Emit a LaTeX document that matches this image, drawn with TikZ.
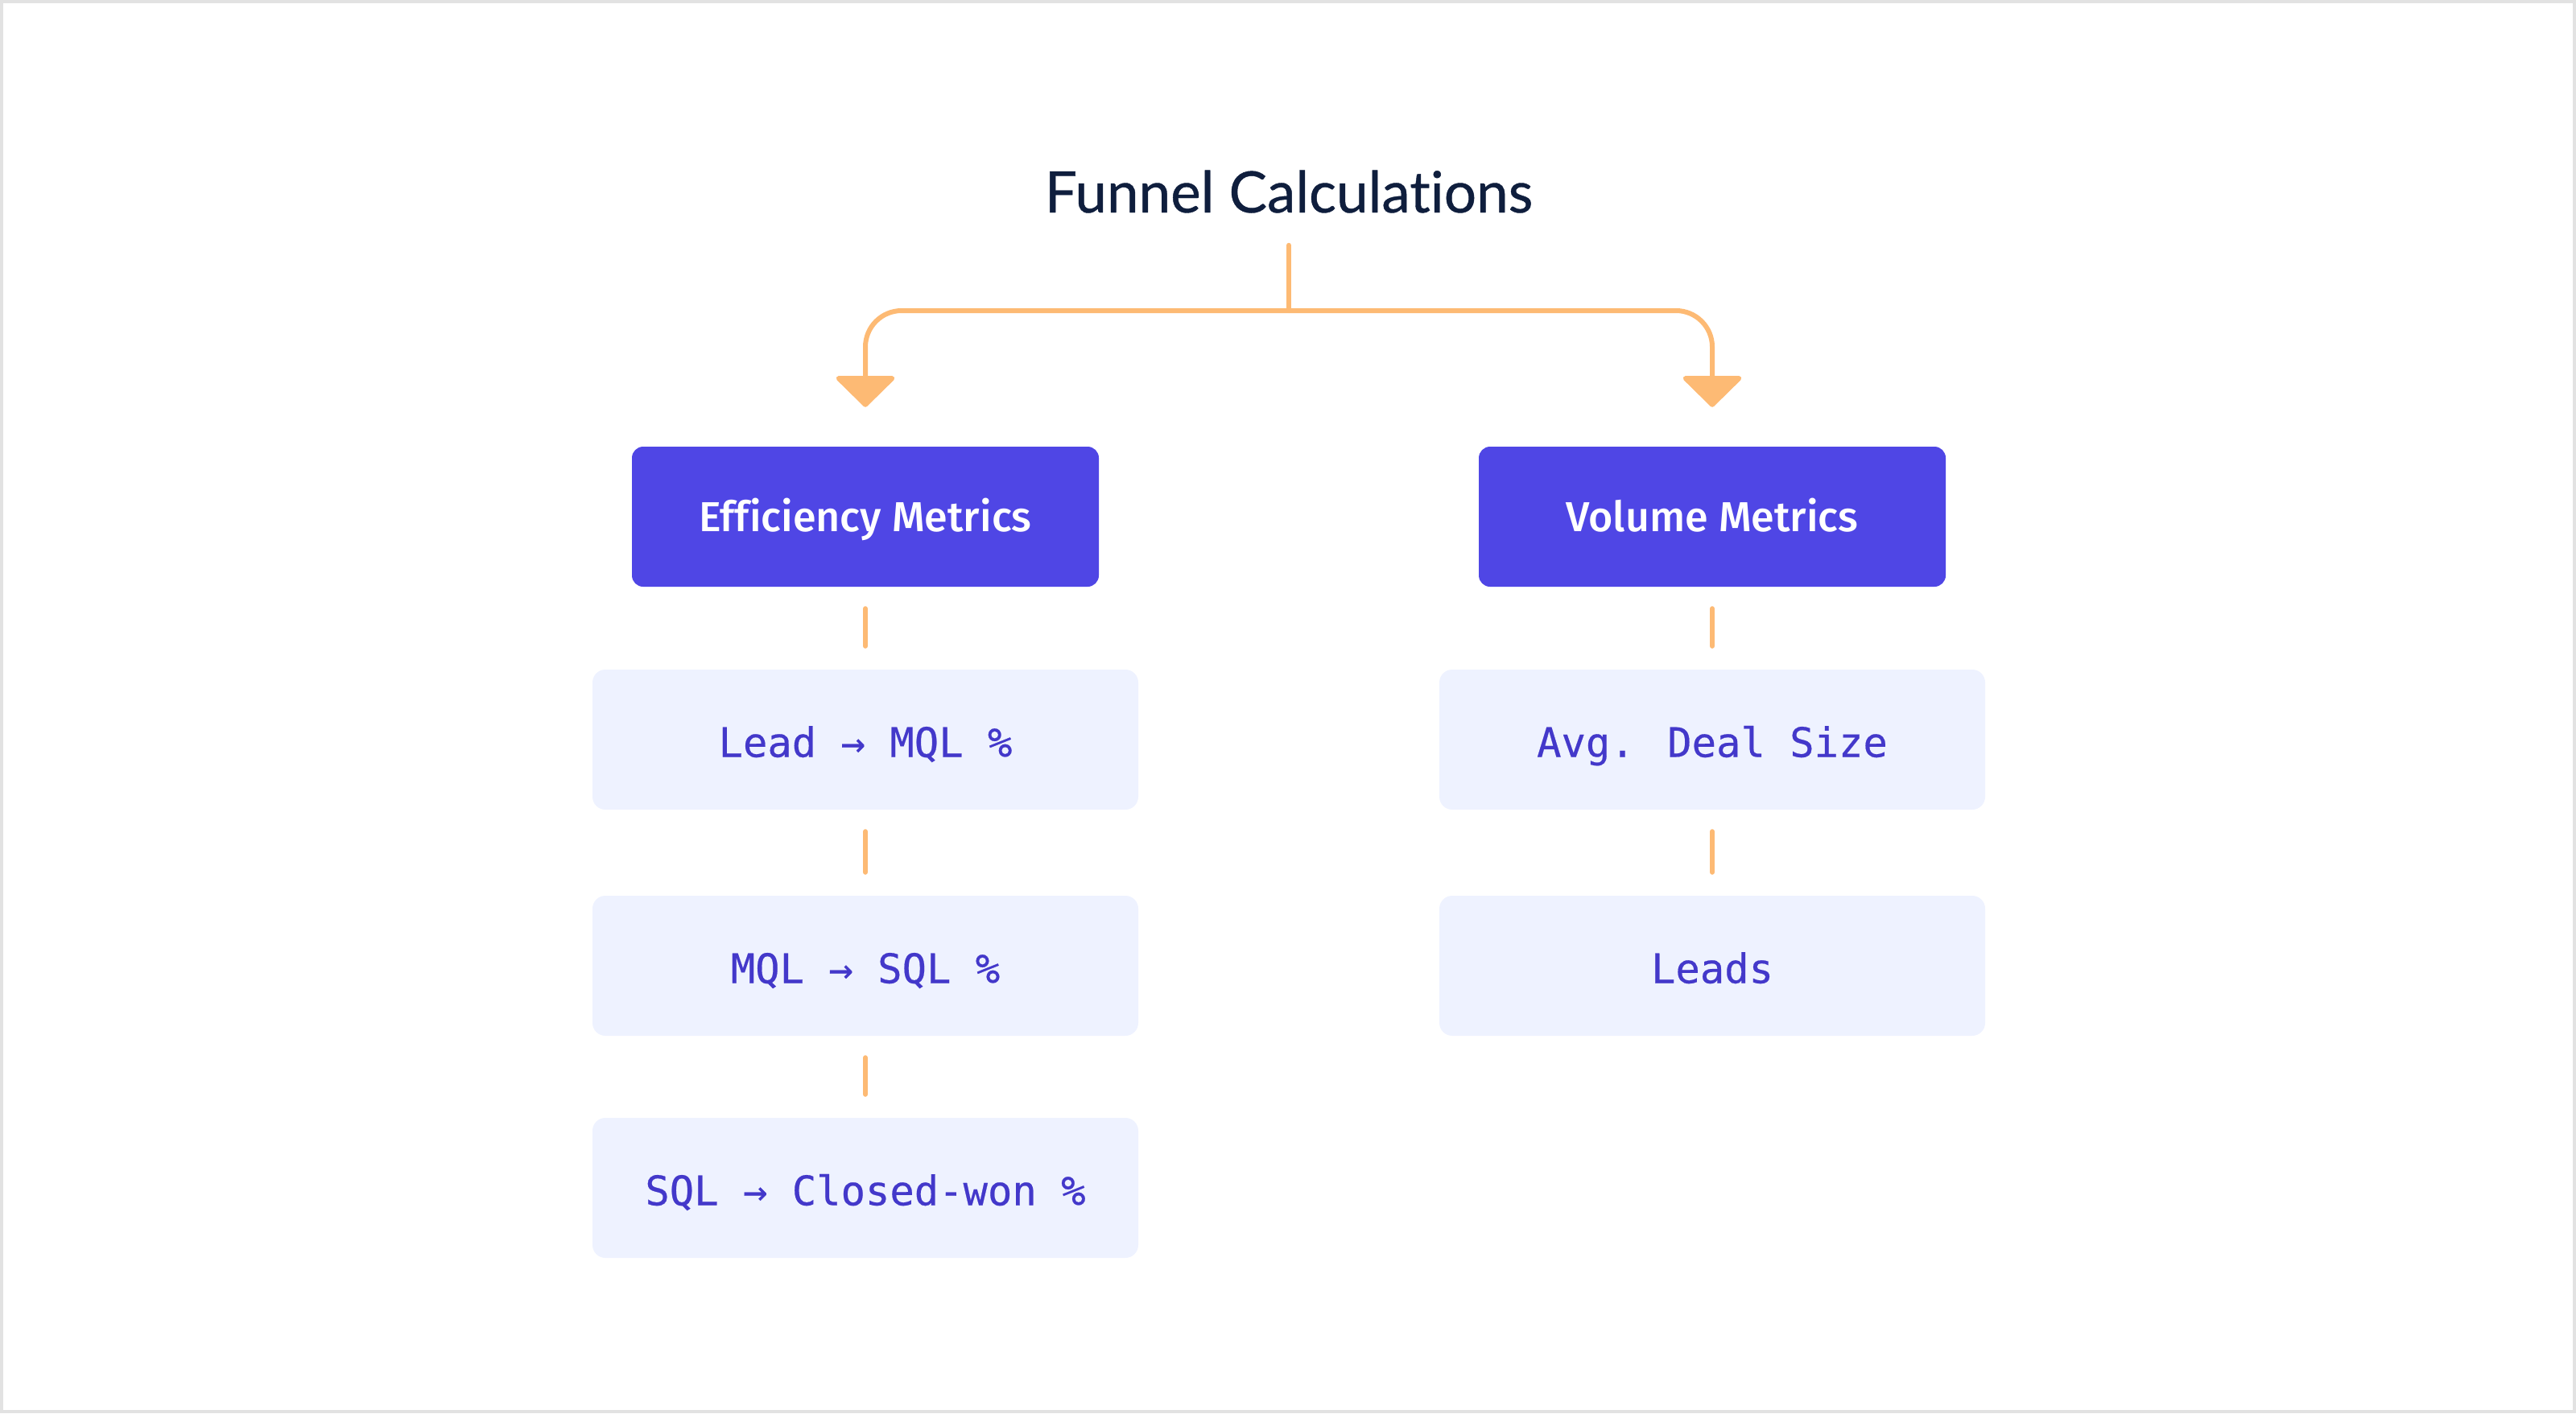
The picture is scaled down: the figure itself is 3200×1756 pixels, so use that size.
\documentclass[tikz,border=0pt]{standalone}
\usepackage{fontspec}
\usepackage{tikz}
\usetikzlibrary{arrows.meta}

\newfontfamily\titlefont{Lato}[Ligatures=NoCommon, FakeBold=0.6]
\newfontfamily\monofont{DejaVu Sans Mono}[FakeBold=0.4]
\IfFontExistsTF{Fira Sans Medium}
  {\newfontfamily\headfont{Fira Sans Medium}[Ligatures=NoCommon]}
  {\IfFontExistsTF{Fira Sans SemiBold}
    {\newfontfamily\headfont{Fira Sans SemiBold}[Ligatures=NoCommon]}
    {\newfontfamily\headfont{Fira Sans}[Ligatures=NoCommon, FakeBold=1.2]}}

\definecolor{framegray}{HTML}{E2E2E2}
\definecolor{titleink}{HTML}{0F1E3D}
\definecolor{funnelorange}{HTML}{FDBA74}
\definecolor{headfill}{HTML}{4F46E5}
\definecolor{metricfill}{HTML}{EEF2FF}
\definecolor{metricink}{HTML}{4338CA}

\begin{document}
\begin{tikzpicture}[x=1pt,y=1pt,
  headbox/.style={fill=headfill, rounded corners=14pt, inner sep=0pt,
    minimum width=580pt, minimum height=174pt, text=white,
    text height=40pt, text depth=4pt,
    font=\headfont\fontsize{52}{60}\selectfont},
  metricbox/.style={fill=metricfill, rounded corners=16pt, inner sep=0pt,
    minimum width=678pt, minimum height=174pt, text=metricink,
    text height=46pt, text depth=3pt,
    font=\monofont\fontsize{50.5}{58}\selectfont},
  trunk/.style={draw=funnelorange, line width=6pt, rounded corners=45pt},
  link/.style={draw=funnelorange, line width=6pt, line cap=round,
    shorten <=27pt, shorten >=29pt}]

  % ------- page and frame -------
  \useasboundingbox (0,0) rectangle (3200,-1756);
  \draw[framegray, line width=4pt] (2,-2) rectangle (3198,-1754);

  % ------- title -------
  \node[anchor=base, inner sep=0pt, text=titleink,
        font=\titlefont\fontsize{71}{80}\selectfont] (title) at (1601,-264) {Funnel Calculations};
  \coordinate (fork) at (1601,-386);

  %================= left column: efficiency =================
  \node[headbox] (eff) at (1075,-642) {Efficiency Metrics};
  \node[metricbox] (leadmql) at (1075,-919) {Lead → MQL \%};
  \node[metricbox] (mqlsql) at (1075,-1200) {MQL → SQL \%};
  \node[metricbox] (sqlwon) at (1075,-1476) {SQL → Closed-won \%};

  %================= right column: volume =================
  \node[headbox] (vol) at (2127,-642) {Volume Metrics};
  \node[metricbox] (dealsize) at (2127,-919) {Avg. Deal Size};
  \node[metricbox] (leads) at (2127,-1200) {Leads};

  % ------- branching connector -------
  \draw[trunk, line cap=round, shorten <=40pt] (title) -- (fork);
  \draw[trunk, shorten >=49pt, -{Triangle[width=80pt,length=40pt,round]}] (fork) -| (eff);
  \draw[trunk, shorten >=49pt, -{Triangle[width=80pt,length=40pt,round]}] (fork) -| (vol);

  % ------- short links inside the columns -------
  \draw[link] (eff) -- (leadmql);
  \draw[link] (leadmql) -- (mqlsql);
  \draw[link] (mqlsql) -- (sqlwon);
  \draw[link] (vol) -- (dealsize);
  \draw[link] (dealsize) -- (leads);

\end{tikzpicture}
\end{document}
